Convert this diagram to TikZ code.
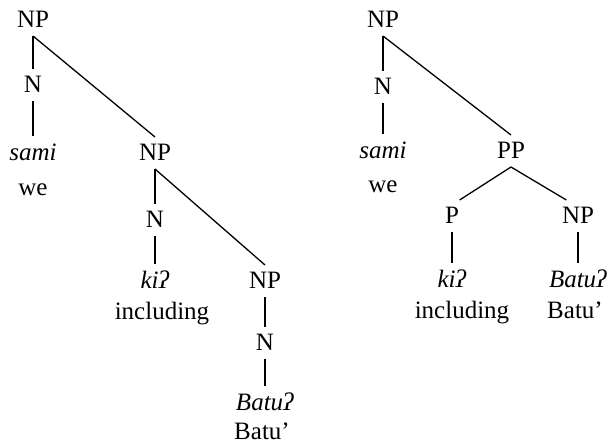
\documentclass[tikz,border=0pt]{standalone}
\usepackage{fontspec}
\setmainfont{Liberation Serif}

\begin{document}
\begin{tikzpicture}[x=1pt,y=-1pt,line width=1.3pt]
	\tikzstyle{every node}+=[inner sep=0pt,anchor=base,font=\fontsize{25}{30}\selectfont]
	\tikzstyle{cat}=[text height=17pt,text depth=3pt,outer ysep=6pt]
	\tikzstyle{word}=[text height=17pt,text depth=0pt,outer ysep=7pt]
	\useasboundingbox (0,0) rectangle (613,445);
	% left tree
	\node [cat] (npa) at (33,27) {NP};
	\node [cat] (na) at (33,92) {N};
	\node [word] (samia) at (33,160) {\textit{sami}};
	\node (wea) at (33,195) {we};
	\node [cat] (npb) at (155,160) {NP};
	\node [cat] (nb) at (155,227) {N};
	\node [word] (kia) at (155,288) {\textit{kiʔ}};
	\node (incla) at (162,319) {including};
	\node [cat] (npc) at (265,288) {NP};
	\node [cat] (nc) at (265,350) {N};
	\node [word] (batua) at (265,410) {\textit{Batuʔ}};
	\node (glossa) at (262,439) {Batu'};
	\draw (npa.south) -- (na.north);
	\draw (npa.south) -- (npb.north);
	\draw (na.south) -- (samia.north);
	\draw (npb.south) -- (nb.north);
	\draw (npb.south) -- (npc.north);
	\draw (nb.south) -- (kia.north);
	\draw (npc.south) -- (nc.north);
	\draw (nc.south) -- (batua.north);
	% right tree
	\node [cat] (npd) at (383,27) {NP};
	\node [cat] (nd) at (383,94) {N};
	\node [word] (samib) at (383,158) {\textit{sami}};
	\node (web) at (383,192) {we};
	\node [cat] (pp) at (511,158) {PP};
	\node [cat] (p) at (452,223) {P};
	\node [cat] (npe) at (578,223) {NP};
	\node [word] (kib) at (452,287) {\textit{kiʔ}};
	\node (inclb) at (462,318) {including};
	\node [word] (batub) at (578,287) {\textit{Batuʔ}};
	\node (glossb) at (575,318) {Batu'};
	\draw (npd.south) -- (nd.north);
	\draw (npd.south) -- (pp.north);
	\draw (nd.south) -- (samib.north);
	\draw (pp.south) -- (p.north east);
	\draw (pp.south) -- ([xshift=5pt]npe.north west);
	\draw (p.south) -- (kib.north);
	\draw (npe.south) -- (batub.north);
\end{tikzpicture}
\end{document}
